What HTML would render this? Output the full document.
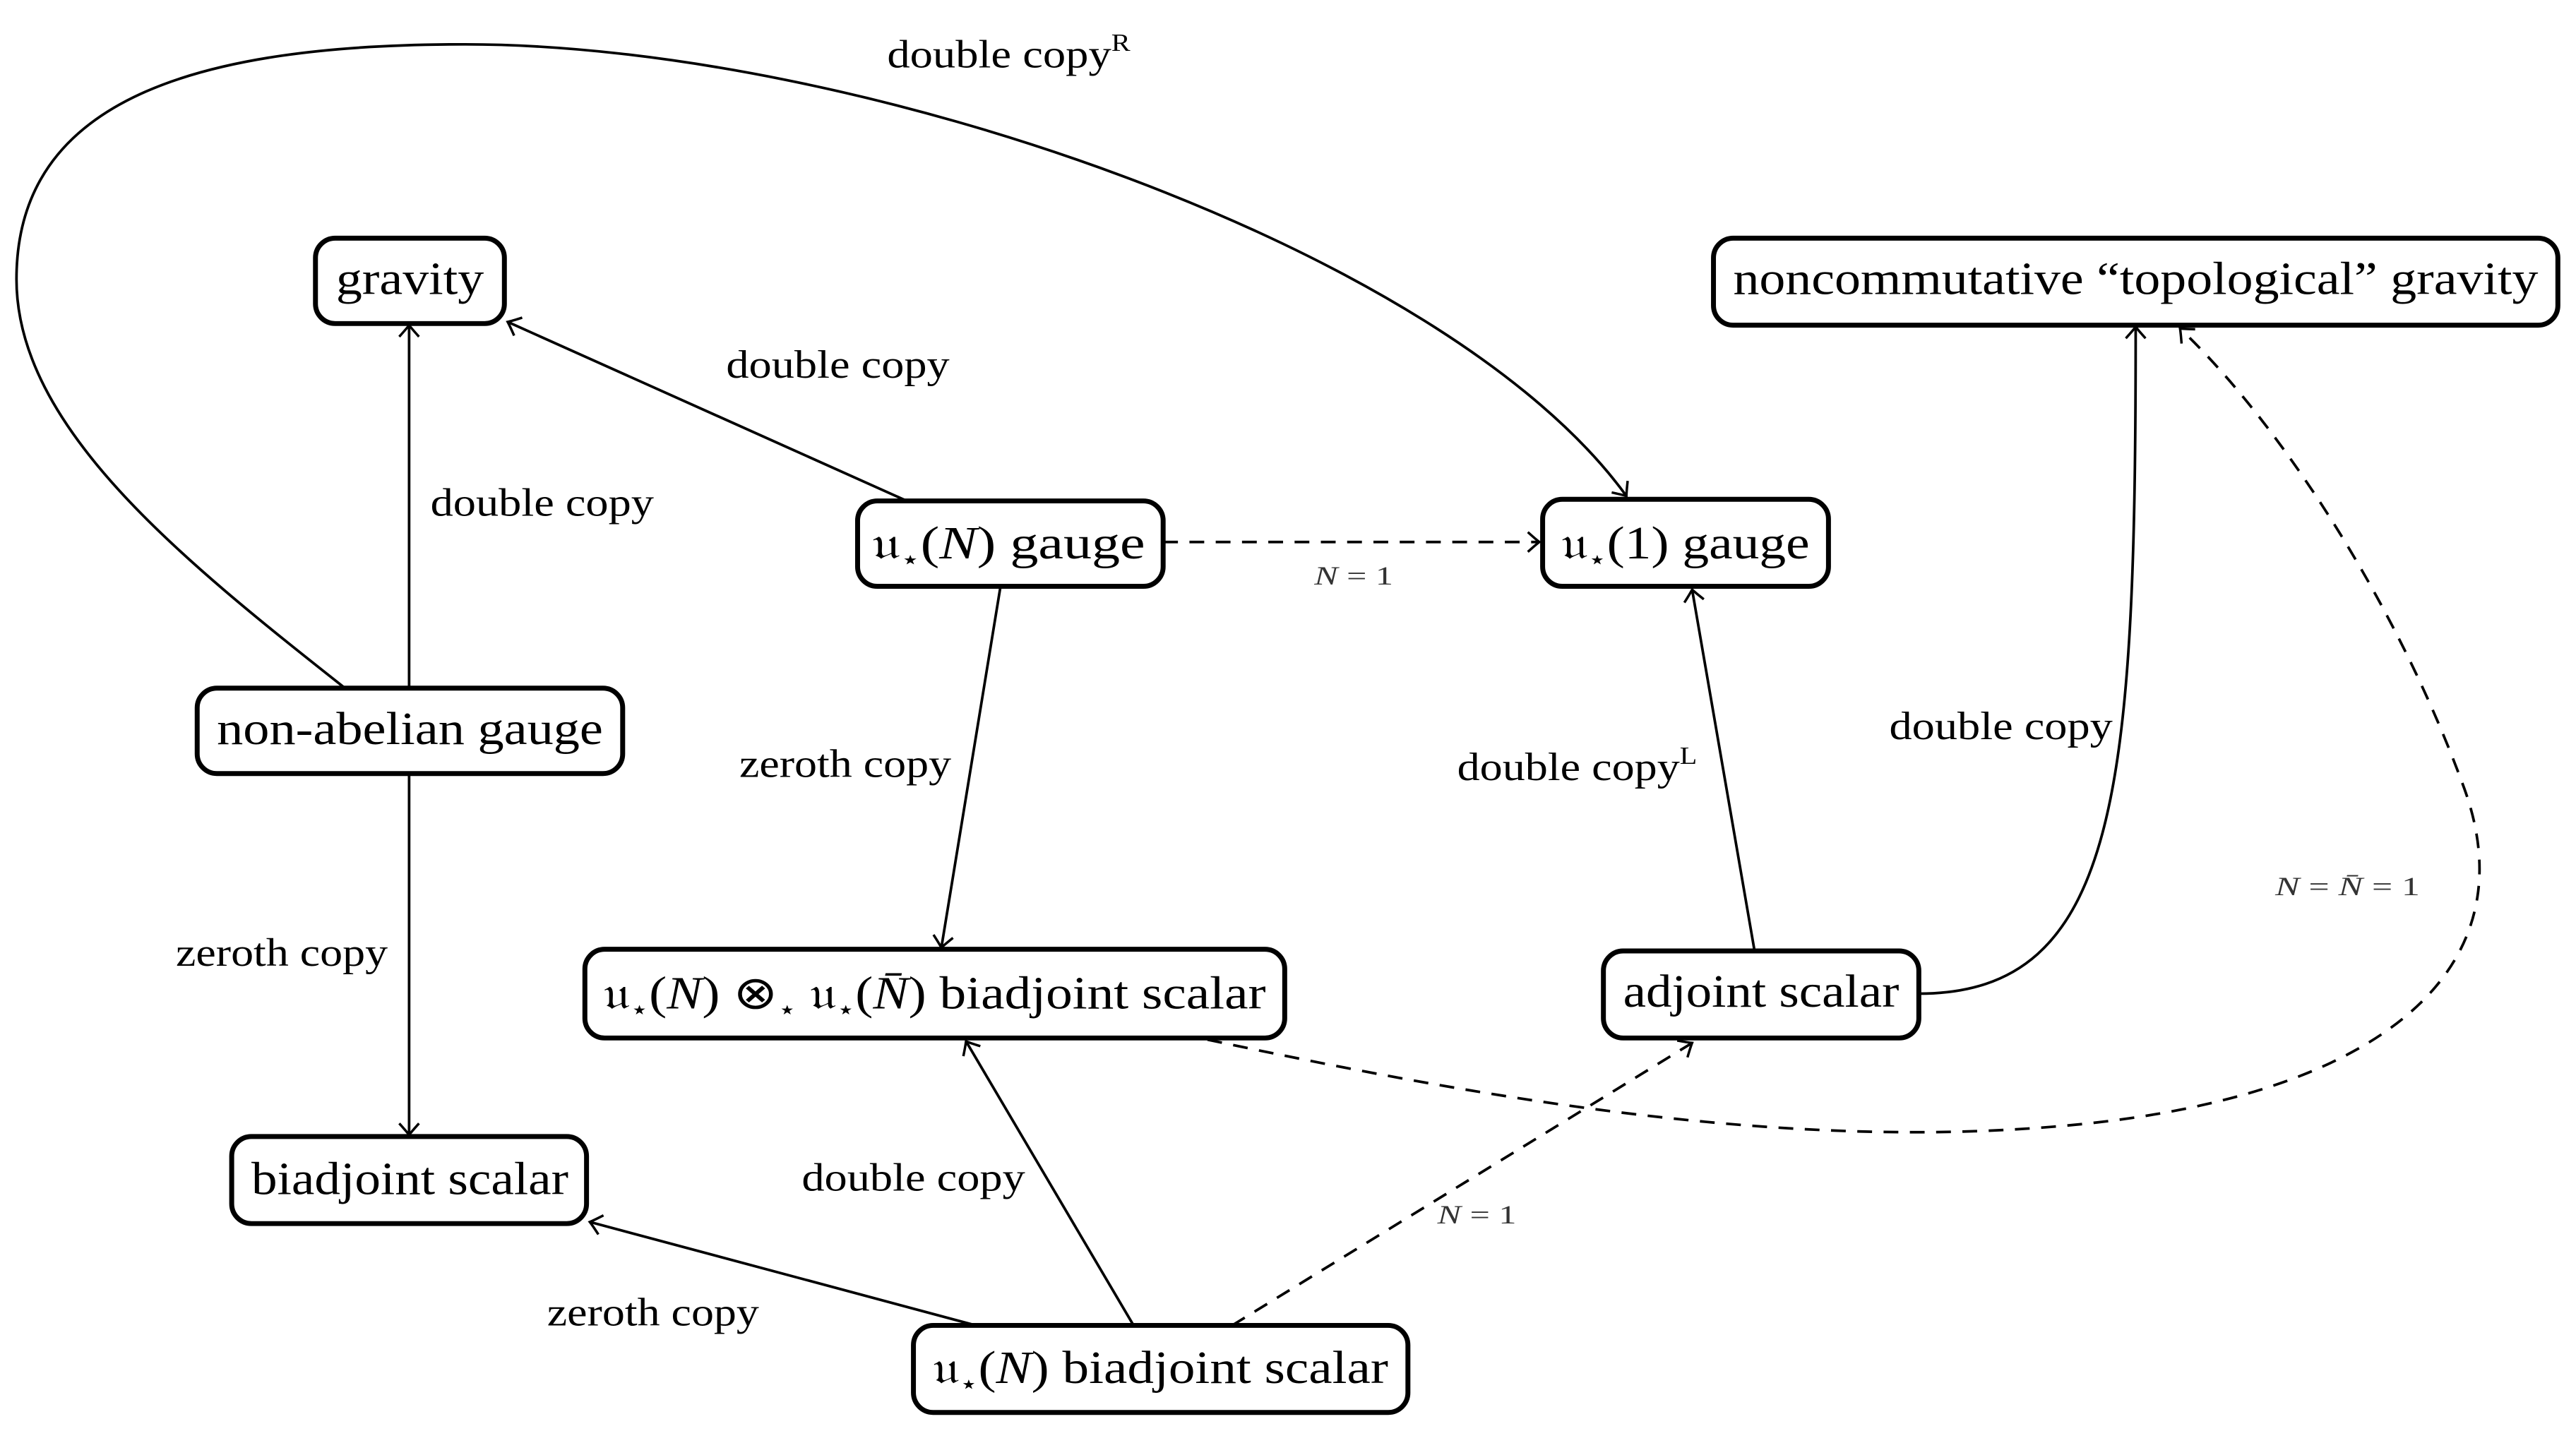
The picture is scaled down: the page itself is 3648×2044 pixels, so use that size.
<!DOCTYPE html>
<html><head><meta charset="utf-8"><style>
html,body{margin:0;padding:0;background:#fff;}
svg{display:block;}
text{font-family:"Liberation Serif",serif;fill:#000;}
.n{font-size:28px;}
.l{font-size:24px;}
.s{font-size:16px;fill:#333;}
rect{fill:#fff;stroke:#000;stroke-width:3;}
.e{fill:none;stroke:#000;stroke-width:1.6;}
.d{fill:none;stroke:#000;stroke-width:1.6;stroke-dasharray:9,7;}
</style></head><body>
<svg width="3648" height="2044" viewBox="0 0 1568 878.6" xmlns="http://www.w3.org/2000/svg">
<defs>
<marker id="a" viewBox="-10 -8 12 16" refX="0" refY="0" markerWidth="12" markerHeight="16" markerUnits="userSpaceOnUse" orient="auto">
<path d="M-7,-6 Q-2,-1.5 0,0 Q-2,1.5 -7,6" fill="none" stroke="#000" stroke-width="1.5"/>
</marker>
</defs>
<path class="e" d="M249,419 L249,198" marker-end="url(#a)"/>
<path class="e" d="M552,305 L309,196" marker-end="url(#a)"/>
<path class="e" d="M249,471 L249,691" marker-end="url(#a)"/>
<path class="e" d="M609,357 L573,577" marker-end="url(#a)"/>
<path class="d" d="M708,330 L937,330" marker-end="url(#a)"/>
<path class="e" d="M1068,579 L1030,359" marker-end="url(#a)"/>
<path class="e" d="M1168,605 C1290,605 1300,480 1300,199" marker-end="url(#a)"/>
<path class="e" d="M594,807 L359,744" marker-end="url(#a)"/>
<path class="e" d="M690,807 L588,634" marker-end="url(#a)"/>
<path class="d" d="M750,807 L1030,635" marker-end="url(#a)"/>
<path class="d" d="M735,633 C900,668 1080,700 1250,686 C1450,670 1540,590 1500,480 C1460,370 1390,260 1327,200" marker-end="url(#a)"/>
<path class="e" d="M210,419 C110,340 10,260 10,170 C10,60 120,27 283,27 C520,27 880,150 990,302" marker-end="url(#a)"/>

<rect x="192" y="145" width="115" height="52" rx="12"/>
<text class="n" x="249.5" y="179" text-anchor="middle" textLength="90" lengthAdjust="spacingAndGlyphs">gravity</text>
<rect x="1043" y="145" width="514" height="53" rx="12"/>
<text class="n" x="1300" y="179" text-anchor="middle" textLength="490" lengthAdjust="spacingAndGlyphs">noncommutative “topological” gravity</text>
<rect x="522" y="305" width="186" height="52" rx="12"/>
<text class="n" x="614" y="340" text-anchor="middle" textLength="166" lengthAdjust="spacingAndGlyphs">𝔲<tspan font-size="16" dy="6">⋆</tspan><tspan dy="-6">(</tspan><tspan font-style="italic">N</tspan>) gauge</text>
<rect x="939" y="304" width="174" height="53" rx="12"/>
<text class="n" x="1026" y="340" text-anchor="middle" textLength="151" lengthAdjust="spacingAndGlyphs">𝔲<tspan font-size="16" dy="6">⋆</tspan><tspan dy="-6">(1) gauge</tspan></text>
<rect x="120" y="419" width="259" height="52" rx="12"/>
<text class="n" x="249.5" y="453" text-anchor="middle" textLength="235" lengthAdjust="spacingAndGlyphs">non-abelian gauge</text>
<rect x="356" y="578" width="426" height="54" rx="12"/>
<text class="n" x="569" y="614" text-anchor="middle" textLength="403" lengthAdjust="spacingAndGlyphs">𝔲<tspan font-size="16" dy="6">⋆</tspan><tspan dy="-6">(</tspan><tspan font-style="italic">N</tspan>) ⊗<tspan font-size="16" dy="6">⋆</tspan><tspan dy="-6"> 𝔲</tspan><tspan font-size="16" dy="6">⋆</tspan><tspan dy="-6">(</tspan><tspan font-style="italic">N̄</tspan>) biadjoint scalar</text>
<rect x="976" y="579" width="192" height="53" rx="12"/>
<text class="n" x="1072" y="613" text-anchor="middle" textLength="168" lengthAdjust="spacingAndGlyphs">adjoint scalar</text>
<rect x="141" y="692" width="216" height="53" rx="12"/>
<text class="n" x="249.5" y="727" text-anchor="middle" textLength="193" lengthAdjust="spacingAndGlyphs">biadjoint scalar</text>
<rect x="556" y="807" width="301" height="53" rx="12"/>
<text class="n" x="706.5" y="842" text-anchor="middle" textLength="277" lengthAdjust="spacingAndGlyphs">𝔲<tspan font-size="16" dy="6">⋆</tspan><tspan dy="-6">(</tspan><tspan font-style="italic">N</tspan>) biadjoint scalar</text>

<text class="l" x="262" y="314" textLength="136" lengthAdjust="spacingAndGlyphs">double copy</text>
<text class="l" x="442" y="230" textLength="136" lengthAdjust="spacingAndGlyphs">double copy</text>
<text class="l" x="107" y="588" textLength="129" lengthAdjust="spacingAndGlyphs">zeroth copy</text>
<text class="l" x="450" y="473" textLength="129" lengthAdjust="spacingAndGlyphs">zeroth copy</text>
<text class="s" x="800" y="356" font-style="italic" textLength="48" lengthAdjust="spacingAndGlyphs">N <tspan font-style="normal">= 1</tspan></text>
<text class="l" x="887" y="475" textLength="146" lengthAdjust="spacingAndGlyphs">double copy<tspan font-size="15" dy="-10">L</tspan></text>
<text class="l" x="1150" y="450" textLength="136" lengthAdjust="spacingAndGlyphs">double copy</text>
<text class="l" x="333" y="807" textLength="129" lengthAdjust="spacingAndGlyphs">zeroth copy</text>
<text class="l" x="488" y="725" textLength="136" lengthAdjust="spacingAndGlyphs">double copy</text>
<text class="s" x="875" y="745" font-style="italic" textLength="48" lengthAdjust="spacingAndGlyphs">N <tspan font-style="normal">= 1</tspan></text>
<text class="s" x="1385" y="545" textLength="88" lengthAdjust="spacingAndGlyphs"><tspan font-style="italic">N</tspan> = <tspan font-style="italic">N̄</tspan> = 1</text>
<text class="l" x="540" y="41" textLength="148" lengthAdjust="spacingAndGlyphs">double copy<tspan font-size="15" dy="-10">R</tspan></text>
</svg>
</body></html>
